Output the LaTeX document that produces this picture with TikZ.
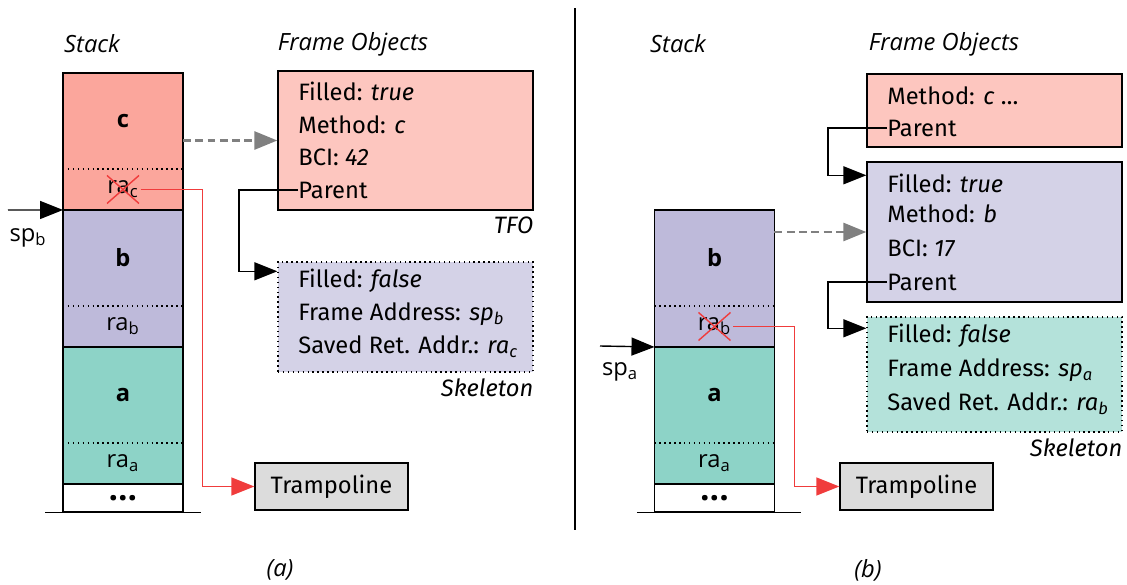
\documentclass[tikz,border=0pt]{standalone}
\usepackage{fontspec}
\setmainfont{Open Sans}
\newfontfamily\objfont{Fira Sans}
\usetikzlibrary{arrows.meta,positioning}

\begin{document}
\begin{tikzpicture}[x=0.02cm, y=-0.02cm]

% =======================================================
% Color definitions (one per frame)
% =======================================================
\definecolor{cStkC}{HTML}{FBA69C}   % frame c on the stack
\definecolor{cObjC}{HTML}{FDC6BF}   % frame object of c
\definecolor{cStkB}{HTML}{BEBADA}   % frame b on the stack
\definecolor{cObjB}{HTML}{D4D2E7}   % frame object of b
\definecolor{cStkA}{HTML}{8DD3C7}   % frame a on the stack
\definecolor{cObjA}{HTML}{B4E2DA}   % skeleton of a
\definecolor{cTramp}{HTML}{DCDCDC}
\definecolor{cRet}{HTML}{F03C3C}

% =======================================================
% Layout parameters
% =======================================================
\def\cellw{2.4cm}     % stack width
\def\frameh{1.92cm}   % frame body height
\def\rah{0.82cm}      % return address slot height
\def\dotsh{0.54cm}
\def\objw{5.1cm}      % frame object width
\def\lblsize{\fontsize{13.5}{16}\selectfont}

% =======================================================
% Styles
% =======================================================
\tikzset{
  stktop/.style  = {minimum width=\cellw, minimum height=\frameh, inner sep=0, outer sep=0, font=\lblsize\bfseries},
  stkra/.style   = {minimum width=\cellw, minimum height=\rah, inner sep=0, outer sep=0},
  stkdots/.style = {draw, line width=0.8pt, fill=white, minimum width=\cellw, minimum height=\dotsh, inner sep=0, font=\fontsize{19}{19}\selectfont\bfseries},
  stkline/.style = {line width=0.8pt},
  slotsep/.style = {dotted, line width=0.8pt},
  ralbl/.style   = {inner sep=1pt, font=\lblsize},
  objbox/.style  = {draw, line width=0.8pt, minimum width=\objw, inner sep=0},
  skelbox/.style = {objbox, dotted},
  objline/.style = {anchor=west, inner sep=0, font=\objfont\lblsize},
  tag/.style     = {anchor=north east, inner sep=0, font=\objfont\lblsize\itshape},
  title/.style   = {font=\lblsize\itshape},
  ptr/.style     = {-{Triangle[length=0.46cm,width=0.36cm]}, line width=0.8pt},
  objptr/.style  = {ptr, gray, dash pattern=on 4.5pt off 2.5pt, line width=1.6pt},
  retptr/.style  = {ptr, cRet},
  cross/.style   = {cRet, line width=0.8pt},
  tramp/.style   = {draw, line width=0.8pt, fill=cTramp, minimum width=3.06cm, minimum height=0.94cm, inner sep=0, font=\objfont\lblsize},
}

\useasboundingbox (0,0) rectangle (1127,585);

% =======================================================
% (a) stack with frames c, b, a
% =======================================================
\node[title] (stkTitleA) at (92,44) {Stack};
\node[title] (objTitleA) at (353,44) {Frame Objects};

\node[stktop, fill=cStkC, anchor=north] (cA) at (123,73) {c};
\node[stkra, fill=cStkC, below=0pt of cA] (rcA) {};
\node[stktop, fill=cStkB, below=0pt of rcA] (bA) {b};
\node[stkra, fill=cStkB, below=0pt of bA] (rbA) {};
\node[stktop, fill=cStkA, below=0pt of rbA] (aA) {a};
\node[stkra, fill=cStkA, below=0pt of aA] (raA) {};
\node[stkdots, below=0pt of raA] (dA) {...};

\foreach \f/\r in {cA/rcA, bA/rbA, aA/raA} {
  \draw[stkline] (\f.north west) rectangle (\r.south east);
  \draw[slotsep] (\f.south west) -- (\f.south east);
}
\draw[stkline] ([xshift=-0.34cm]dA.south west) -- ([xshift=0.34cm]dA.south east);

\node[ralbl] (racA) at (rcA) {ra\textsubscript{c}};
\node[ralbl] (rabA) at (rbA) {ra\textsubscript{b}};
\node[ralbl] (raaA) at (raA) {ra\textsubscript{a}};

% stack pointer
\coordinate (spbTail) at (8,210);
\draw[ptr] (spbTail) -- (rcA.south west);
\node[ralbl] (spbA) at (28,238) {sp\textsubscript{b}};

% TFO of c
\node[objbox, fill=cObjC, minimum height=2.78cm] (tfoA) at (405.5,140.5) {};
\node[objline] (fillTfoA) at (298,91)  {Filled: \textit{true}};
\node[objline] (methTfoA) at (298,125) {Method: \textit{c}};
\node[objline] (bciTfoA)  at (298,157) {BCI: \textit{42}};
\node[objline] (parTfoA)  at (298,190) {Parent};
\node[tag] (tfoTagA) at ([yshift=-0.12cm]tfoA.south east) {TFO};

% skeleton of b
\node[skelbox, fill=cObjB, minimum height=2.2cm] (skelA) at (405.5,317) {};
\node[objline] (fillSkelA) at (298,281) {Filled: \textit{false}};
\node[objline] (addrSkelA) at (298,314) {Frame Address: \textit{sp\textsubscript{b}}};
\node[objline] (retSkelA)  at (298,347) {Saved Ret. Addr.: \textit{ra\textsubscript{c}}};
\node[tag] (skelTagA) at ([yshift=-0.12cm]skelA.south east) {Skeleton};

\draw[objptr] (cA.east |- tfoA.west) -- (tfoA.west);
\draw[ptr] (parTfoA.west) -- ++(-59,0) |- ([yshift=-0.2cm]skelA.north west);

% trampoline
\node[tramp] (trA) at (331.5,486.5) {Trampoline};
\draw[retptr] (racA.east) -- ++(62,0) |- (trA.west);
\draw[cross] ([shift={(-16,-14)}]racA.center) -- ([shift={(16,14)}]racA.center);
\draw[cross] ([shift={(-16,14)}]racA.center) -- ([shift={(16,-14)}]racA.center);

\node[title] (capA) at (280,570) {(a)};

% separator
\draw[line width=0.6pt] (575,8) -- (575,530);

% =======================================================
% (b) stack with frames b, a
% =======================================================
\node[title] (stkTitleB) at (678,44) {Stack};
\node[title] (objTitleB) at (944,44) {Frame Objects};

\node[stktop, fill=cStkB, anchor=north] (bB) at (714.5,210) {b};
\node[stkra, fill=cStkB, below=0pt of bB] (rbB) {};
\node[stktop, fill=cStkA, below=0pt of rbB] (aB) {a};
\node[stkra, fill=cStkA, below=0pt of aB] (raB) {};
\node[stkdots, below=0pt of raB] (dB) {...};

\foreach \f/\r in {bB/rbB, aB/raB} {
  \draw[stkline] (\f.north west) rectangle (\r.south east);
  \draw[slotsep] (\f.south west) -- (\f.south east);
}
\draw[stkline] ([xshift=-0.34cm]dB.south west) -- ([xshift=0.52cm]dB.south east);

\node[ralbl] (rabB) at (rbB) {ra\textsubscript{b}};
\node[ralbl] (raaB) at (raB) {ra\textsubscript{a}};

% stack pointer
\coordinate (spaTail) at (600,346);
\draw[ptr] (spaTail) -- (rbB.south west);
\node[ralbl] (spaB) at (620,372) {sp\textsubscript{a}};

% TFO of c (shortened)
\node[objbox, fill=cObjC, minimum height=1.46cm] (tfoB) at (994.5,110.5) {};
\node[objline] (methTfoB) at (887,96)  {Method: \textit{c}~\ldots};
\node[objline] (parTfoB)  at (887,128) {Parent};

% TFO of b
\node[objbox, fill=cObjB, minimum height=2.8cm] (tfobB) at (994.5,232) {};
\node[objline] (fillTfobB) at (887,183) {Filled: \textit{true}};
\node[objline] (methTfobB) at (887,214) {Method: \textit{b}};
\node[objline] (bciTfobB)  at (887,248) {BCI: \textit{17}};
\node[objline] (parTfobB)  at (887,282) {Parent};

% skeleton of a
\node[skelbox, fill=cObjA, minimum height=2.3cm] (skelB) at (994.5,374.5) {};
\node[objline] (fillSkelB) at (887,336) {Filled: \textit{false}};
\node[objline] (addrSkelB) at (887,370) {Frame Address: \textit{sp\textsubscript{a}}};
\node[objline] (retSkelB)  at (887,404) {Saved Ret. Addr.: \textit{ra\textsubscript{b}}};
\node[tag] (skelTagB) at ([yshift=-0.12cm]skelB.south east) {Skeleton};

\draw[ptr] (parTfoB.west) -- ++(-59,0) |- ([yshift=-0.28cm]tfobB.north west);
\draw[objptr] (bB.east |- tfobB.west) -- (tfobB.west);
\draw[ptr] (parTfobB.west) -- ++(-59,0) |- ([yshift=-0.24cm]skelB.north west);

% trampoline
\node[tramp] (trB) at (916.5,486.5) {Trampoline};
\draw[retptr] (rabB.east) -- ++(61,0) |- (trB.west);
\draw[cross] ([shift={(-16,-14)}]rabB.center) -- ([shift={(16,14)}]rabB.center);
\draw[cross] ([shift={(-16,14)}]rabB.center) -- ([shift={(16,-14)}]rabB.center);

\node[title] (capB) at (868,570) {(b)};

\end{tikzpicture}
\end{document}
